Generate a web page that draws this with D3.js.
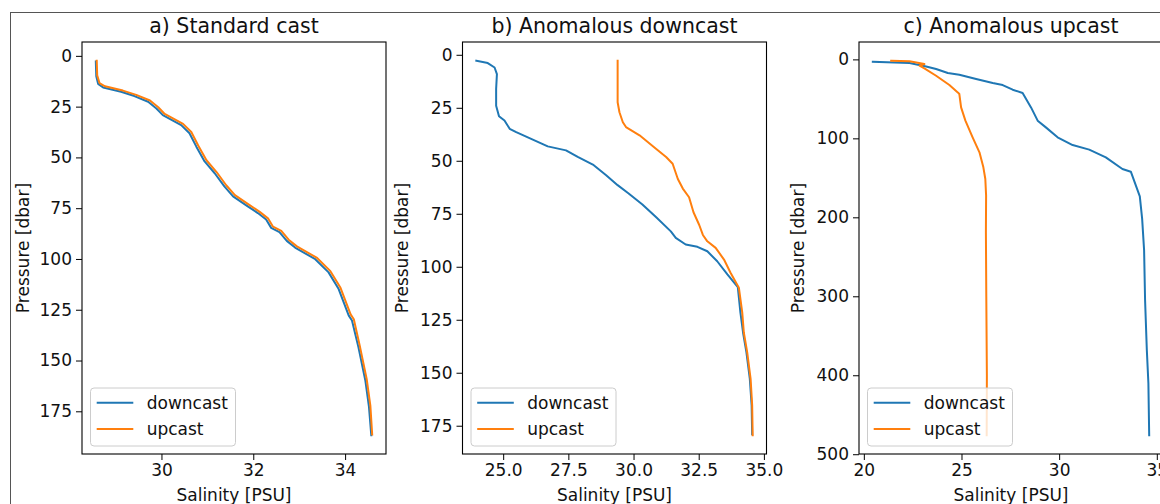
<!DOCTYPE html>
<html>
<head>
<meta charset="utf-8">
<script src="https://cdn.jsdelivr.net/npm/d3@7"></script>
<style>
  html, body { margin: 0; padding: 0; background: #fff; }
  svg { display: block; font-family: "DejaVu Sans", sans-serif; }
</style>
</head>
<body>
<svg id="chart" width="1160" height="504"></svg>
<script>
// ---- Data: [salinity PSU, pressure dbar] ----
const standardDown = [
  [28.57, 2.8], [28.58, 10], [28.62, 13.8], [28.73, 15.6], [29.12, 17.7], [29.41, 19.8],
  [29.71, 22.6], [29.89, 25.9], [30.03, 29.2], [30.43, 34.1], [30.61, 38.1], [30.76, 44.7],
  [30.94, 52.0], [31.16, 57.8], [31.37, 64.3], [31.56, 69.2], [31.88, 74.1], [32.10, 77.4],
  [32.28, 80.6], [32.39, 84.7], [32.57, 86.8], [32.73, 91.1], [32.91, 94.4], [33.35, 100.1],
  [33.64, 106.6], [33.86, 114.8], [34.08, 127.9], [34.15, 130.3], [34.29, 143.4],
  [34.44, 159.7], [34.52, 172.8], [34.57, 186.8]
];
const standardUp = [
  [28.59, 2.4], [28.60, 9.6], [28.65, 13.4], [28.77, 15.0], [29.16, 17.1], [29.45, 19.2],
  [29.75, 22.0], [29.93, 25.3], [30.07, 28.6], [30.47, 33.5], [30.65, 37.5], [30.80, 44.1],
  [30.98, 51.4], [31.20, 57.2], [31.41, 63.7], [31.60, 68.6], [31.92, 73.5], [32.14, 76.8],
  [32.32, 80.0], [32.43, 84.1], [32.61, 86.2], [32.77, 90.5], [32.95, 93.8], [33.39, 99.5],
  [33.68, 106.0], [33.90, 114.2], [34.12, 127.3], [34.19, 129.7], [34.32, 142.8],
  [34.47, 159.1], [34.55, 172.2], [34.59, 186.4]
];
const anomDownDown = [
  [23.97, 2.8], [24.41, 3.9], [24.67, 6.0], [24.76, 9.1], [24.73, 16.1], [24.73, 24.0],
  [24.84, 29.0], [25.05, 31.0], [25.25, 34.9], [25.50, 36.5], [26.01, 39.3], [26.71, 43.2],
  [27.41, 45.1], [27.86, 48.2], [28.44, 51.8], [28.95, 56.8], [29.39, 61.5], [29.80, 65.3],
  [30.34, 70.6], [30.88, 76.8], [31.43, 83.3], [31.62, 86.4], [32.00, 89.5], [32.45, 90.6],
  [32.83, 92.7], [33.21, 97.4], [33.60, 103.6], [34.00, 109.6], [34.10, 121.6],
  [34.20, 131.0], [34.33, 140.4], [34.46, 152.9], [34.53, 165.4], [34.55, 179.0]
];
const anomDownUp = [
  [29.39, 2.8], [29.39, 22.4], [29.46, 27.1], [29.59, 31.8], [29.71, 34.1], [30.23, 38.0],
  [30.86, 44.3], [31.25, 48.2], [31.50, 51.4], [31.70, 58.6], [31.89, 63.1], [32.13, 67.2],
  [32.30, 74.3], [32.52, 80.3], [32.66, 85.0], [32.83, 88.0], [33.15, 91.1], [33.47, 96.6],
  [33.72, 102.8], [34.04, 109.9], [34.17, 121.6], [34.23, 131.0], [34.36, 140.4],
  [34.49, 152.9], [34.55, 165.4], [34.57, 179.5]
];
const anomUpDown = [
  [20.46, 2.9], [22.34, 4.7], [23.19, 8.9], [23.70, 12.2], [24.30, 17.3], [24.89, 19.4],
  [25.75, 24.9], [26.60, 30.0], [27.11, 32.5], [27.62, 38.4], [28.13, 42.6], [28.56, 60.8],
  [28.90, 77.6], [29.32, 86.1], [29.92, 98.7], [30.69, 108.5], [31.54, 114.3], [32.39, 124.1],
  [33.24, 138.8], [33.67, 142.2], [33.93, 159.9], [34.13, 173.4], [34.25, 202.0],
  [34.35, 241.8], [34.40, 305.0], [34.49, 368.4], [34.57, 410.5], [34.61, 476.0]
];
const anomUpUp = [
  [21.40, 1.7], [22.34, 2.5], [23.10, 5.9], [22.85, 8.0], [23.10, 11.4], [23.70, 20.7],
  [24.38, 32.5], [24.81, 41.8], [24.89, 43.9], [24.98, 60.8], [25.20, 77.6], [25.57, 98.7],
  [25.92, 117.7], [26.12, 136.7], [26.22, 151.5], [26.26, 172.5], [26.25, 219.0],
  [26.27, 300.0], [26.30, 400.0], [26.29, 476.0]
];

// ---- Titles, labels and ticks ----
const panelTitles = ["a) Standard cast", "b) Anomalous downcast", "c) Anomalous upcast"];
const seriesNames = ["downcast", "upcast"];
const xTicksA = [30, 32, 34];
const xTicksB = [25.0, 27.5, 30.0, 32.5, 35.0];
const xTicksC = [20, 25, 30, 35];
const yTicksAB = [0, 25, 50, 75, 100, 125, 150, 175];
const yTicksC = [0, 100, 200, 300, 400, 500];
const xLabel = "Salinity [PSU]";
const yLabel = "Pressure [dbar]";

const colors = ["#1f77b4", "#ff7f0e"];

const panels = [
  { title: panelTitles[0], series: [standardDown, standardUp], xt: xTicksA, yt: yTicksAB, xf: d3.format("d"), left: 82, ylabX: 28.5 },
  { title: panelTitles[1], series: [anomDownDown, anomDownUp], xt: xTicksB, yt: yTicksAB, xf: d3.format(".1f"), left: 462.5, ylabX: 407.5 },
  { title: panelTitles[2], series: [anomUpDown, anomUpUp], xt: xTicksC, yt: yTicksC, xf: d3.format("d"), left: 859, ylabX: 804 }
];

const svg = d3.select("#chart");
const PW = 304, PTOP = 42, PBOT = 454;

// outer figure frame (cropped)
svg.append("rect").attr("x", 10.5).attr("y", 12.5).attr("width", 1200).attr("height", 600)
  .attr("fill", "none").attr("stroke", "#555").attr("stroke-width", 1);

function padExtent(vals) {
  const [a, b] = d3.extent(vals);
  const m = (b - a) * 0.05;
  return [a - m, b + m];
}

panels.forEach(p => {
  const all = p.series.flat();
  const x = d3.scaleLinear().domain(padExtent(all.map(d => d[0]))).range([p.left, p.left + PW]);
  const y = d3.scaleLinear().domain(padExtent(all.map(d => d[1]))).range([PTOP, PBOT]);
  const g = svg.append("g");

  const clipId = "clip" + Math.round(p.left);
  svg.append("clipPath").attr("id", clipId).append("rect")
    .attr("x", p.left).attr("y", PTOP).attr("width", PW).attr("height", PBOT - PTOP);

  const line = d3.line().x(d => x(d[0])).y(d => y(d[1]));
  p.series.forEach((s, i) => {
    g.append("path").datum(s).attr("d", line).attr("fill", "none")
      .attr("stroke", colors[i]).attr("stroke-width", 2).attr("stroke-linejoin", "round")
      .attr("stroke-linecap", "square").attr("clip-path", `url(#${clipId})`);
  });

  // axes
  const xAxis = d3.axisBottom(x).tickValues(p.xt).tickFormat(p.xf).tickSize(6).tickPadding(4);
  const yAxis = d3.axisLeft(y).tickValues(p.yt).tickSize(6).tickPadding(4);
  const gx = g.append("g").attr("transform", `translate(0,${PBOT})`).call(xAxis);
  const gy = g.append("g").attr("transform", `translate(${p.left},0)`).call(yAxis);
  [gx, gy].forEach(ax => {
    ax.select(".domain").remove();
    ax.selectAll("line").attr("stroke", "#000").attr("stroke-width", 1);
    ax.selectAll("text").attr("font-size", 17).attr("fill", "#111")
      .attr("font-family", "DejaVu Sans, sans-serif");
  });
  gx.selectAll("text").attr("dy", "0.71em");

  // frame
  g.append("rect").attr("x", p.left).attr("y", PTOP).attr("width", PW).attr("height", PBOT - PTOP)
    .attr("fill", "none").attr("stroke", "#000").attr("stroke-width", 1.1);

  // title
  g.append("text").attr("x", p.left + PW / 2).attr("y", 33).attr("text-anchor", "middle")
    .attr("font-size", 20.5).attr("fill", "#111").text(p.title);
  // x label
  g.append("text").attr("x", p.left + PW / 2).attr("y", 501).attr("text-anchor", "middle")
    .attr("font-size", 17).attr("fill", "#111").text(xLabel);
  // y label
  g.append("text").attr("transform", `translate(${p.ylabX},${(PTOP + PBOT) / 2}) rotate(-90)`)
    .attr("text-anchor", "middle").attr("font-size", 17).attr("fill", "#111").text(yLabel);

  // legend
  const lx = p.left + 8.5, ly = 388;
  g.append("rect").attr("x", lx).attr("y", ly).attr("width", 145).attr("height", 58)
    .attr("rx", 3.5).attr("fill", "#fff").attr("fill-opacity", 0.8)
    .attr("stroke", "#ccc").attr("stroke-width", 1);
  seriesNames.forEach((n, i) => {
    const yy = 402.7 + i * 26.3;
    g.append("line").attr("x1", p.left + 14.7).attr("x2", p.left + 51.3).attr("y1", yy).attr("y2", yy)
      .attr("stroke", colors[i]).attr("stroke-width", 2);
    g.append("text").attr("x", p.left + 64.7).attr("y", yy + 6.2).attr("font-size", 17)
      .attr("fill", "#111").text(n);
  });
});
</script>
</body>
</html>
